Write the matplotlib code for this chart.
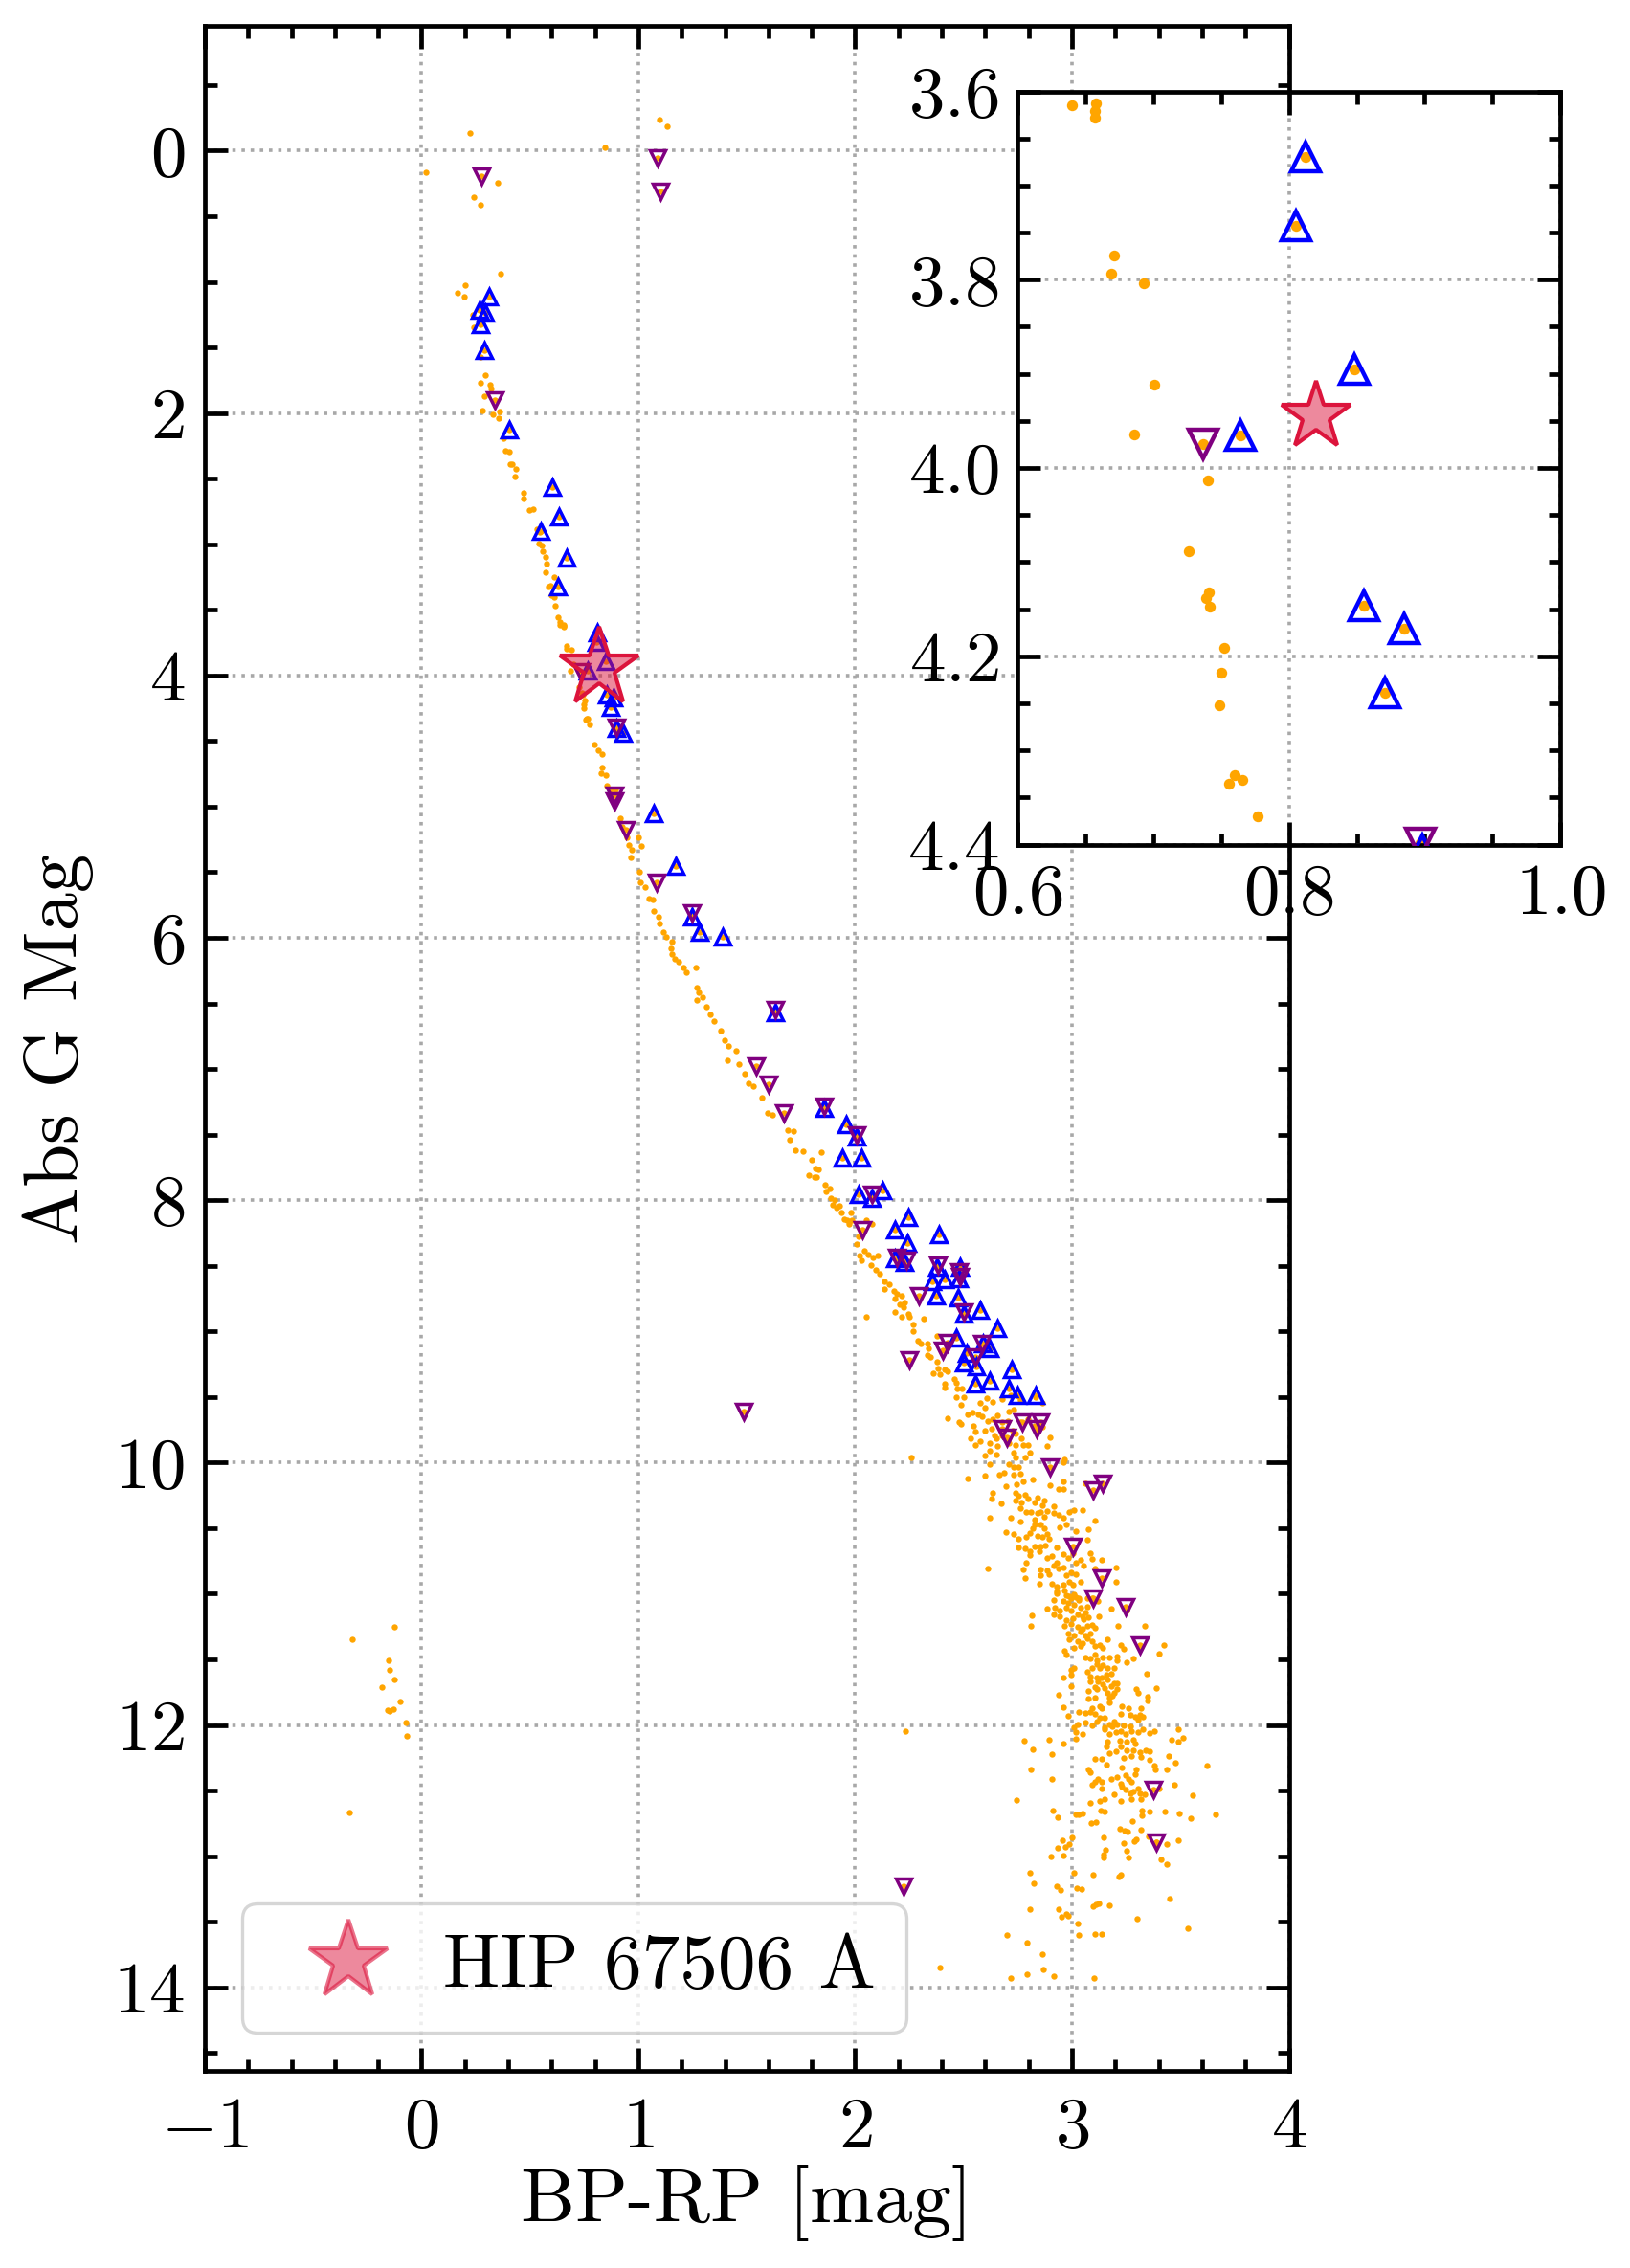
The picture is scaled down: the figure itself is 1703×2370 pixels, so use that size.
import matplotlib
matplotlib.use("Agg")
import matplotlib.pyplot as plt
import numpy as np
from matplotlib.ticker import MultipleLocator, FuncFormatter
from matplotlib.lines import Line2D

plt.rcParams.update({
    "font.family": "serif",
    "font.serif": ["cmr10"],
    "mathtext.fontset": "cm",
    "axes.unicode_minus": False,
})

# ---------------- data: (BP-RP, Abs G) ----------------
field_upper = [
    (0.222, -0.132), (0.019, 0.161), (0.846, -0.029), (1.098, -0.234), (1.132, -0.188), (0.350, 0.242),
    (0.239, 0.352), (0.271, 0.410), (0.364, 0.938), (0.200, 1.026), (0.164, 1.084), (0.195, 1.114),
    (0.235, 1.253), (0.239, 1.348), (0.274, 1.575), (0.296, 1.707), (0.271, 1.766), (0.315, 1.780),
    (0.320, 1.810), (0.289, 1.868), (0.279, 1.978), (0.359, 1.988), (0.330, 2.007), (0.354, 2.042),
    (0.376, 2.190), (0.386, 2.286), (0.403, 2.293), (0.408, 2.391), (0.418, 2.391), (0.433, 2.425),
    (0.430, 2.481), (0.472, 2.609), (0.469, 2.648), (0.499, 2.738), (0.516, 2.733), (0.534, 2.885),
    (0.544, 2.910), (0.541, 2.995), (0.556, 3.007), (0.560, 3.056), (0.571, 3.100), (0.578, 3.149),
    (0.571, 3.215), (0.611, 3.252), (0.586, 3.320), (0.593, 3.313), (0.600, 3.386), (0.612, 3.403),
    (0.614, 3.465), (0.630, 3.557), (0.637, 3.589),
    (0.640, 3.615), (0.658, 3.613), (0.657, 3.621), (0.657, 3.628), (0.671, 3.774), (0.669, 3.794),
    (0.693, 3.804), (0.701, 3.912), (0.686, 3.964), (0.740, 4.013), (0.726, 4.088), (0.741, 4.132),
    (0.739, 4.138), (0.742, 4.147), (0.752, 4.191), (0.750, 4.217), (0.749, 4.252), (0.760, 4.326),
    (0.756, 4.335), (0.766, 4.331), (0.777, 4.370),
    (0.799, 4.523), (0.814, 4.572), (0.833, 4.601), (0.832, 4.700), (0.829, 4.743), (0.851, 4.763),
    (0.854, 4.841), (0.873, 4.866), (0.894, 4.866), (0.876, 4.939), (0.917, 5.090), (0.925, 5.150),
    (0.947, 5.232), (0.954, 5.293), (0.971, 5.330), (0.965, 5.384), (0.999, 5.232), (1.013, 5.300),
    (1.003, 5.496), (1.010, 5.575), (1.032, 5.611), (1.050, 5.702), (1.065, 5.709), (1.072, 5.795),
    (1.092, 5.839), (1.098, 5.890), (1.113, 5.954), (1.127, 5.992), (1.154, 6.030), (1.151, 6.082),
    (1.154, 6.125), (1.169, 6.159), (1.184, 6.184), (1.207, 6.223), (1.221, 6.261), (1.267, 6.223),
    (1.270, 6.376), (1.280, 6.414), (1.270, 6.473), (1.295, 6.453), (1.314, 6.524), (1.332, 6.581),
    (1.350, 6.632), (1.379, 6.709), (1.399, 6.780), (1.413, 6.824), (1.450, 6.862), (1.409, 6.933),
    (1.465, 6.964), (1.492, 7.036), (1.510, 7.105), (1.529, 7.130), (1.569, 7.220), (1.616, 7.348),
    (1.596, 7.335), (1.687, 7.463), (1.714, 7.476), (1.699, 7.540), (1.724, 7.616), (1.761, 7.629),
    (1.799, 7.693), (1.818, 7.757), (1.844, 7.634), (1.784, 7.808), (1.813, 7.821),
]

field_knee = [
    (1.830, 7.763), (1.823, 7.824), (1.860, 7.885), (1.882, 7.910), (1.867, 7.934), (1.889, 7.983),
    (1.904, 7.995), (1.897, 8.032), (1.912, 8.056), (1.926, 8.044), (1.934, 8.093), (1.949, 8.142),
    (1.963, 8.154), (1.971, 8.178), (1.985, 8.154), (1.978, 8.093), (2.049, 8.154), (2.077, 8.183),
    (2.015, 8.276), (2.007, 8.337), (2.022, 8.423), (2.030, 8.460), (2.044, 8.386), (2.059, 8.411),
    (2.081, 8.435), (2.103, 8.423), (2.074, 8.496), (2.096, 8.533), (2.111, 8.557), (2.133, 8.619),
    (2.155, 8.643), (2.133, 8.680), (2.177, 8.692), (2.192, 8.716), (2.214, 8.729), (2.184, 8.753),
    (2.206, 8.790), (2.229, 8.778), (2.221, 8.814), (2.184, 8.851), (2.214, 8.888), (2.243, 8.863),
    (2.251, 8.888), (2.265, 8.949), (2.265, 8.998), (2.317, 8.900), (2.049, 8.888), (2.288, 9.071),
    (2.302, 9.095), (2.332, 9.095), (2.339, 9.132), (2.376, 9.034), (2.332, 9.181), (2.347, 9.193),
    (2.376, 9.230), (2.383, 9.279), (2.413, 9.291), (2.361, 9.316), (2.391, 9.328), (2.428, 9.303),
    (2.413, 9.401), (2.413, 9.425), (2.457, 9.364), (2.465, 9.389), (2.472, 9.438), (2.494, 9.438),
    (2.465, 9.499), (2.487, 9.560), (2.428, 9.665), (2.479, 9.689), (2.258, 9.958),
]

field_m_dwarfs_a = [
    (2.503, 9.499), (2.576, 9.547), (2.606, 9.511), (2.635, 9.535), (2.599, 9.584), (2.679, 9.518),
    (2.716, 9.487), (2.753, 9.494), (2.834, 9.499), (2.863, 9.543), (2.760, 9.523),
    (2.518, 9.633), (2.540, 9.620), (2.569, 9.633), (2.584, 9.645), (2.613, 9.681), (2.635, 9.669),
    (2.657, 9.640), (2.709, 9.608), (2.731, 9.596), (2.679, 9.693), (2.706, 9.681), (2.760, 9.693),
    (2.797, 9.669), (2.826, 9.718), (2.863, 9.730),
    (2.488, 9.706), (2.547, 9.718), (2.554, 9.766), (2.532, 9.815), (2.599, 9.754), (2.628, 9.742),
    (2.643, 9.791), (2.650, 9.815), (2.679, 9.791), (2.701, 9.815), (2.724, 9.754), (2.738, 9.779),
    (2.768, 9.815), (2.841, 9.766),
    (2.576, 9.839), (2.554, 9.864), (2.621, 9.852), (2.657, 9.876), (2.709, 9.852), (2.738, 9.864),
    (2.775, 9.869), (2.797, 9.869), (2.885, 9.876), (2.900, 9.810),
    (2.621, 9.912), (2.599, 9.949), (2.650, 9.937), (2.731, 9.925), (2.738, 9.961), (2.782, 9.961),
    (2.804, 9.925), (2.709, 10.010), (2.753, 10.034), (2.731, 10.034), (2.621, 10.010), (2.966, 9.973),
    (2.959, 9.998),
    (2.518, 10.119), (2.599, 10.102), (2.665, 10.095), (2.687, 10.078), (2.731, 10.095), (2.760, 10.088),
    (2.775, 10.144), (2.746, 10.168), (2.819, 10.131), (2.900, 10.175), (2.959, 10.144), (2.937, 10.200),
    (2.959, 10.204), (2.694, 10.180),
    (2.635, 10.229), (2.738, 10.229), (2.753, 10.253), (2.782, 10.248), (2.797, 10.277), (2.738, 10.290),
    (2.768, 10.302), (2.826, 10.302), (2.841, 10.265), (2.628, 10.277), (2.672, 10.314), (2.871, 10.290),
    (2.863, 10.326), (3.062, 10.161),
    (2.760, 10.350), (2.790, 10.375), (2.812, 10.375), (2.841, 10.387), (2.856, 10.375), (2.885, 10.370),
    (2.915, 10.333), (2.915, 10.387), (2.937, 10.399), (2.959, 10.423), (2.988, 10.380), (3.010, 10.363),
    (3.047, 10.365), (2.621, 10.418), (2.716, 10.418), (2.760, 10.448), (2.826, 10.436), (2.871, 10.411),
    (3.106, 10.443),
    (2.826, 10.472), (2.856, 10.472), (2.819, 10.501), (2.871, 10.501), (2.944, 10.496), (2.974, 10.472),
    (2.694, 10.533), (2.731, 10.545), (2.804, 10.540), (2.841, 10.557), (2.863, 10.569), (2.885, 10.545),
    (2.893, 10.582), (2.753, 10.582), (2.790, 10.569), (3.076, 10.509), (3.069, 10.589), (3.018, 10.521),
    (2.753, 10.647), (2.782, 10.655), (2.804, 10.679), (2.826, 10.642), (2.856, 10.642), (2.878, 10.630),
    (2.849, 10.679), (2.929, 10.647), (2.804, 10.703), (2.885, 10.727), (2.907, 10.715), (2.959, 10.696),
    (2.981, 10.727), (3.003, 10.691), (3.040, 10.740), (3.018, 10.764), (3.084, 10.691), (3.091, 10.735),
    (3.135, 10.740),
    (2.790, 10.764), (2.775, 10.813), (2.856, 10.813), (2.885, 10.825), (2.915, 10.788), (2.929, 10.764),
    (2.937, 10.808), (2.959, 10.800), (2.974, 10.861), (2.996, 10.837), (3.018, 10.849), (2.613, 10.808),
    (2.856, 10.861), (2.893, 10.849), (2.782, 10.881), (3.054, 10.788), (3.106, 10.808), (3.201, 10.800),
    (3.201, 10.910),
    (2.849, 10.922), (2.907, 10.922), (2.929, 10.946), (2.959, 10.934), (2.988, 10.910), (3.003, 10.934),
    (3.040, 10.910), (2.929, 10.983), (2.966, 10.971), (2.988, 11.019), (3.010, 11.007), (2.915, 11.044),
    (3.032, 11.032), (3.069, 11.032), (3.091, 11.036),
]

field_m_dwarfs_b = [
    (2.929, 10.998), (2.974, 11.010), (2.996, 11.034), (3.018, 11.022), (2.959, 11.058), (2.981, 11.071),
    (3.032, 11.046), (3.010, 11.083), (2.885, 11.114), (2.922, 11.107), (2.944, 11.131), (2.974, 11.107),
    (2.996, 11.131), (3.040, 11.107), (3.069, 11.095), (3.099, 11.046), (3.121, 11.058), (3.179, 11.114),
    (3.253, 11.131), (3.047, 11.168), (3.062, 11.144),
    (2.815, 11.161), (2.812, 11.241), (2.915, 11.156), (2.944, 11.168), (2.974, 11.204), (3.003, 11.187),
    (3.025, 11.156), (3.054, 11.192), (3.076, 11.180), (2.966, 11.241), (2.996, 11.229), (3.025, 11.253),
    (3.047, 11.265), (3.069, 11.241), (3.091, 11.236), (3.106, 11.260), (3.125, 11.168), (3.213, 11.248),
    (3.334, 11.246),
    (2.981, 11.302), (3.010, 11.314), (3.040, 11.290), (3.062, 11.314), (3.084, 11.302), (2.988, 11.350),
    (3.025, 11.363), (3.047, 11.375), (3.069, 11.338), (3.091, 11.363), (3.010, 11.411), (3.040, 11.399),
    (3.106, 11.399), (3.128, 11.387), (3.143, 11.411), (3.165, 11.350), (3.224, 11.387), (3.238, 11.423),
    (3.312, 11.399), (3.422, 11.392), (3.400, 11.453),
    (2.966, 11.436), (2.974, 11.465), (3.062, 11.484), (3.084, 11.496), (3.106, 11.460), (3.113, 11.509),
    (3.143, 11.484), (3.172, 11.484), (3.209, 11.479), (3.209, 11.509), (3.253, 11.521), (3.282, 11.491),
    (3.113, 11.533), (3.143, 11.545), (3.165, 11.569), (3.194, 11.562), (2.996, 11.582), (3.010, 11.569),
    (3.091, 11.569), (3.128, 11.569), (3.346, 11.611),
    (2.959, 11.635), (2.996, 11.618), (3.069, 11.594), (3.084, 11.630), (3.113, 11.635), (3.135, 11.635),
    (3.157, 11.618), (3.179, 11.606), (3.084, 11.667), (3.121, 11.667), (3.143, 11.691), (3.165, 11.655),
    (3.194, 11.684), (3.209, 11.679), (3.106, 11.708), (3.150, 11.715), (3.179, 11.703), (3.209, 11.727),
    (2.996, 11.703), (3.297, 11.727), (3.390, 11.720),
    (3.076, 11.740), (3.113, 11.727), (3.165, 11.752), (3.194, 11.752), (3.172, 11.788), (3.187, 11.776),
    (3.172, 11.825), (2.940, 11.771), (3.074, 11.800), (3.106, 11.788), (3.304, 11.752), (3.349, 11.781),
    (3.349, 11.813), (3.231, 11.854), (3.260, 11.873), (3.128, 11.854), (3.091, 11.873), (3.135, 11.873),
    (2.959, 11.866), (3.319, 11.869),
    (3.032, 11.898), (3.062, 11.910), (3.084, 11.903), (3.106, 11.917), (3.128, 11.946), (3.150, 11.946),
    (3.113, 11.971), (3.062, 11.983), (3.025, 11.995), (2.981, 11.927), (3.224, 11.917), (3.268, 11.922),
    (3.290, 11.934), (3.312, 11.922), (3.304, 11.959), (3.326, 11.934), (3.194, 11.971), (3.172, 11.995),
    (3.150, 12.015), (3.187, 12.007), (3.209, 11.995), (3.238, 12.002), (3.268, 12.007), (3.091, 12.000),
    (3.010, 12.019), (3.018, 12.056),
    (3.047, 12.068), (3.018, 12.105), (3.150, 12.032), (3.172, 12.068), (3.201, 12.056), (3.224, 12.044),
    (3.246, 12.068), (3.275, 12.044), (3.304, 12.056), (3.326, 12.032), (3.356, 12.061), (3.378, 12.044),
    (3.488, 12.032), (3.510, 12.097), (3.459, 12.112), (3.488, 12.129), (3.221, 12.117), (3.253, 12.129),
    (3.282, 12.112), (3.290, 12.141), (3.165, 12.129), (2.779, 12.117), (2.893, 12.112), (2.819, 12.182),
    (2.959, 12.141), (3.157, 12.165), (3.224, 12.165),
    (3.201, 12.202), (3.172, 12.214), (3.253, 12.190), (3.282, 12.190), (3.312, 12.209), (3.341, 12.190),
    (3.356, 12.202), (3.238, 12.251), (3.275, 12.238), (3.319, 12.243), (3.356, 12.263), (3.106, 12.258),
    (3.135, 12.258), (3.157, 12.299), (3.378, 12.311), (3.444, 12.234), (3.478, 12.287), (2.907, 12.219),
    (3.076, 12.336), (3.084, 12.360), (3.231, 12.324), (3.297, 12.336), (3.290, 12.372), (3.385, 12.336),
    (3.437, 12.336), (2.809, 12.336), (3.624, 12.311), (2.907, 12.409), (3.121, 12.414), (3.135, 12.433),
    (3.106, 12.433), (3.091, 12.453), (3.179, 12.409), (3.209, 12.397), (3.246, 12.384), (3.260, 12.409),
    (3.224, 12.445), (3.275, 12.433), (3.304, 12.482), (3.400, 12.482), (3.474, 12.453),
    (3.135, 12.487), (3.194, 12.526), (3.231, 12.470), (3.246, 12.494), (3.268, 12.518), (3.282, 12.506),
    (3.312, 12.518), (3.334, 12.530), (3.319, 12.567), (3.275, 12.567), (3.224, 12.579), (3.150, 12.567),
    (3.128, 12.579), (3.084, 12.591), (3.554, 12.535),
]

field_faint = [
    (2.746, 12.570), (2.912, 12.652), (2.932, 12.703), (3.019, 12.681), (3.032, 12.679), (3.047, 12.672),
    (3.132, 12.652), (3.149, 12.659), (3.087, 12.747), (3.109, 12.740), (3.321, 12.686), (3.324, 12.652),
    (3.356, 12.659), (3.426, 12.659), (3.493, 12.672), (3.546, 12.711), (3.660, 12.681), (3.276, 12.733),
    (3.222, 12.791), (3.243, 12.806), (3.257, 12.811), (3.316, 12.799), (3.351, 12.850), (3.387, 12.891),
    (3.387, 12.916), (3.437, 12.908), (3.488, 12.879), (3.294, 12.874), (3.287, 12.886), (3.237, 12.901),
    (3.250, 12.960), (3.259, 13.009), (3.409, 13.026), (3.437, 13.062), (3.144, 12.857), (3.153, 12.950),
    (3.144, 12.989), (3.146, 13.009), (3.000, 12.857), (2.985, 12.908), (2.968, 12.928), (2.954, 12.879),
    (2.932, 12.938), (2.903, 13.004), (2.959, 12.996), (3.007, 13.128), (3.096, 13.143), (3.215, 13.155),
    (3.224, 13.140), (2.804, 13.128), (2.822, 13.209), (2.928, 13.231), (2.946, 13.258), (3.021, 13.245),
    (3.043, 13.253), (3.096, 13.382), (3.109, 13.368), (3.124, 13.363), (3.171, 13.377), (3.449, 13.326),
    (2.804, 13.407), (2.937, 13.407), (2.975, 13.441), (2.984, 13.455), (2.950, 13.465), (3.299, 13.473),
    (3.025, 13.516), (3.029, 13.604), (3.104, 13.595), (3.135, 13.590), (3.532, 13.553), (2.699, 13.597),
    (2.791, 13.656), (2.862, 13.744), (2.866, 13.861), (2.791, 13.897), (2.915, 13.912), (2.716, 13.927),
    (3.100, 13.927), (2.390, 13.850), (2.230, 12.050),
]

field_white_dwarfs = [
    (-0.125, 11.253), (-0.318, 11.350), (-0.150, 11.504), (-0.146, 11.582), (-0.124, 11.655),
    (-0.181, 11.708), (-0.101, 11.818), (-0.128, 11.876), (-0.156, 11.888), (-0.146, 11.895),
    (-0.071, 11.978), (-0.066, 12.080), (-0.331, 12.669),
]

# flagged stars, upward triangles (blue)
up_stars = [
    (0.310, 1.109), (0.266, 1.213), (0.296, 1.238), (0.274, 1.323), (0.291, 1.519), (0.403, 2.130),
    (0.605, 2.567), (0.634, 2.787), (0.549, 2.897), (0.667, 3.105), (0.630, 3.325), (0.812, 3.670),
    (0.805, 3.743), (0.848, 3.895), (0.764, 3.965), (0.855, 4.146), (0.885, 4.171), (0.871, 4.239),
    (0.898, 4.405), (0.929, 4.438), (1.069, 5.049), (1.173, 5.452), (1.246, 5.839), (1.284, 5.954),
    (1.387, 5.992), (1.633, 6.568), (1.858, 7.297), (1.959, 7.425), (2.006, 7.514), (1.939, 7.680),
    (2.028, 7.680), (2.015, 7.958), (2.125, 7.922), (2.077, 7.983), (2.243, 8.130), (2.184, 8.227),
    (2.240, 8.325), (2.184, 8.447), (2.229, 8.472), (2.388, 8.264), (2.376, 8.509), (2.482, 8.509),
    (2.354, 8.619), (2.413, 8.606), (2.479, 8.594), (2.373, 8.729), (2.476, 8.741), (2.501, 8.863),
    (2.578, 8.839), (2.656, 8.973), (2.465, 9.046), (2.590, 9.095), (2.619, 9.132), (2.501, 9.242),
    (2.560, 9.267), (2.552, 9.401), (2.619, 9.376), (2.723, 9.291), (2.708, 9.438), (2.749, 9.487),
    (2.833, 9.487), (2.516, 9.169),
]

# flagged stars, downward triangles (purple)
down_stars = [
    (0.276, 0.195), (1.088, 0.054), (1.100, 0.310), (0.340, 1.897), (0.737, 3.975), (0.897, 4.398),
    (0.888, 4.910), (0.888, 4.960), (0.942, 5.178), (1.084, 5.575), (1.246, 5.808), (1.542, 6.977),
    (1.599, 7.118), (1.673, 7.335), (1.633, 6.550), (1.858, 7.280), (2.006, 7.500), (2.077, 7.958),
    (2.035, 8.227), (2.192, 8.435), (2.236, 8.460), (2.383, 8.496), (2.479, 8.545), (2.482, 8.582),
    (2.295, 8.729), (2.501, 8.851), (2.251, 9.218), (2.428, 9.083), (2.405, 9.144), (2.586, 9.095),
    (2.556, 9.193), (2.678, 9.743), (2.698, 9.804), (2.770, 9.694), (2.838, 9.743), (2.856, 9.694),
    (2.900, 10.037), (3.098, 10.210), (3.142, 10.160), (3.003, 10.640), (3.135, 10.880),
    (3.098, 11.030), (3.245, 11.100), (3.314, 11.390), (3.377, 12.490), (3.387, 12.891),
    (1.486, 9.610), (2.222, 13.230),
]

target_name = "HIP 67506 A"
target_bp_rp = [0.820]
target_g = [3.945]

main_xticks = [-1, 0, 1, 2, 3, 4]
main_yticks = [0, 2, 4, 6, 8, 10, 12, 14]
inset_xticks = [0.6, 0.8, 1.0]
inset_yticks = [3.6, 3.8, 4.0, 4.2, 4.4]

# ---------------- plotting ----------------
field = np.array(field_upper + field_knee + field_m_dwarfs_a + field_m_dwarfs_b
                 + field_faint + field_white_dwarfs)
up = np.array(up_stars)
down = np.array(down_stars)
all_pts = np.vstack([field, up, down])

C_ORANGE = "#FFA500"
C_BLUE = "#0000FF"
C_PURPLE = "#800080"
C_STAR = "#DC143C"
STAR_FACE = (0.863, 0.078, 0.235, 0.5)

fig = plt.figure(figsize=(8.515, 11.85), dpi=200)
ax = fig.add_axes([0.1256, 0.0870, 0.6651, 0.9015])


def style_axes(a, lw=1.7):
    for s in a.spines.values():
        s.set_linewidth(lw)
    a.tick_params(which="both", direction="in", top=True, right=True, width=lw)
    a.tick_params(which="major", length=8.8)
    a.tick_params(which="minor", length=4.5)
    a.set_axisbelow(True)
    a.grid(True, which="major", linestyle=":", color="#a8a8a8", linewidth=1.3)


def draw(a, dot_ms, tri_ms, tri_mew, star_ms):
    a.plot(all_pts[:, 0], all_pts[:, 1], "o", color=C_ORANGE, ms=dot_ms, mew=0, zorder=2)
    a.plot(up[:, 0], up[:, 1], "^", ms=tri_ms, mfc="none", mec=C_BLUE, mew=tri_mew, zorder=3)
    a.plot(down[:, 0], down[:, 1], "v", ms=tri_ms, mfc="none", mec=C_PURPLE, mew=tri_mew, zorder=4)
    a.plot(target_bp_rp, target_g, "*", ms=star_ms, mfc=STAR_FACE, mec=C_STAR, mew=1.5, zorder=6)


style_axes(ax)
draw(ax, 2.3, 6.0, 1.25, 31)
ax.set_xlim(-1, 4)
ax.set_ylim(14.635, -0.95)
ax.set_xticks(main_xticks)
ax.set_yticks(main_yticks)
ax.xaxis.set_minor_locator(MultipleLocator(0.2))
ax.yaxis.set_minor_locator(MultipleLocator(0.5))
ax.xaxis.set_major_formatter(FuncFormatter(lambda v, p: r"$%d$" % round(v)))
ax.yaxis.set_major_formatter(FuncFormatter(lambda v, p: r"$%d$" % round(v)))
ax.tick_params(axis="x", which="major", labelsize=27, pad=10)
ax.tick_params(axis="y", which="major", labelsize=27, pad=7.5)
ax.set_xlabel("BP-RP [mag]", fontsize=29)
ax.set_ylabel("Abs G Mag", fontsize=29)
ax.xaxis.set_label_coords(0.5, -0.046)
ax.yaxis.set_label_coords(-0.102, 0.5)

handle = Line2D([], [], ls="none", marker="*", ms=31, mfc=STAR_FACE,
                mec=(0.863, 0.078, 0.235, 0.6), mew=1.5)
leg = ax.legend([handle], [target_name], loc="lower left", fontsize=28.5, frameon=True,
                framealpha=0.8, edgecolor="0.8", fancybox=True, handletextpad=0.25)
leg.get_frame().set_linewidth(1.2)

# inset
axin = fig.add_axes([0.6242, 0.6276, 0.3331, 0.3321])
style_axes(axin)
draw(axin, 4.1, 10.5, 1.6, 27)
axin.set_xlim(0.6, 1.0)
axin.set_ylim(4.4, 3.6)
axin.set_xticks(inset_xticks)
axin.set_yticks(inset_yticks)
axin.xaxis.set_minor_locator(MultipleLocator(0.05))
axin.yaxis.set_minor_locator(MultipleLocator(0.05))
axin.xaxis.set_major_formatter(FuncFormatter(lambda v, p: r"$%.1f$" % v))
axin.yaxis.set_major_formatter(FuncFormatter(lambda v, p: r"$%.1f$" % v))
axin.tick_params(axis="x", which="major", labelsize=27, pad=7)
axin.tick_params(axis="y", which="major", labelsize=27, pad=7)

fig.savefig("out.png", dpi=200)
